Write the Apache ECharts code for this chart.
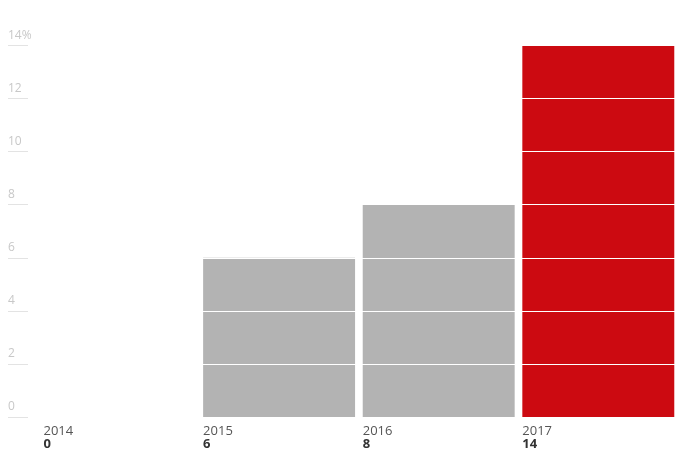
<!DOCTYPE html>
<html>
<head>
<meta charset="utf-8">
<script src="https://cdn.jsdelivr.net/npm/echarts@6/dist/echarts.min.js"></script>
<style>html,body{margin:0;padding:0;background:#fff}#c{width:689px;height:457px}</style>
</head>
<body>
<div id="c"></div>
<script>
const years = ['2014', '2015', '2016', '2017'];
const values = [0, 6, 8, 14];
const barColors = ['#b3b3b3', '#b3b3b3', '#b3b3b3', '#cc0a11'];
const yTicks = [0, 2, 4, 6, 8, 10, 12, 14];

const chart = echarts.init(document.getElementById('c'), null, {renderer: 'canvas'});
const labelCats = years.map((y, i) => y + '\n' + values[i]).concat(['']);
chart.setOption({
  animation: false,
  textStyle: {fontFamily: 'Open Sans'},
  grid: {left: 39.7, right: 10.9, top: 45.5, bottom: 40, containLabel: false},
  xAxis: [{
    type: 'category', data: years,
    axisLine: {show: false}, axisTick: {show: false}, axisLabel: {show: false}
  }, {
    type: 'category', data: labelCats, boundaryGap: false, position: 'bottom',
    axisLine: {show: false}, axisTick: {show: false},
    axisLabel: {
      interval: 0, align: 'left', margin: 8,
      formatter: function (v) {
        if (!v) return '';
        const p = v.split('\n');
        return '{y|' + p[0] + '}\n{v|' + p[1] + '}';
      },
      rich: {
        y: {fontFamily: 'Open Sans', fontSize: 13, color: '#555', lineHeight: 13, padding: [0, 0, 0, 3.8]},
        v: {fontFamily: 'Open Sans', fontSize: 13, fontWeight: 'bold', color: '#333', lineHeight: 13, padding: [0, 0, 0, 3.8]}
      }
    }
  }],
  yAxis: {
    type: 'value', min: 0, max: 14, interval: 2, offset: 31.7, z: 5,
    axisLine: {show: false},
    axisTick: {show: true, inside: true, length: 20, lineStyle: {color: '#e3e3e3', width: 1}},
    axisLabel: {
      inside: true, margin: 0, align: 'left', verticalAlign: 'bottom',
      padding: [0, 0, 4, 0],
      color: '#c8c8c8', fontSize: 12, fontFamily: 'Open Sans',
      formatter: function (v) { return v === yTicks[yTicks.length - 1] ? v + '%' : String(v); }
    },
    splitLine: {show: true, lineStyle: {color: '#ffffff', width: 1}}
  },
  series: [{
    type: 'bar', xAxisIndex: 0, barCategoryGap: '4.8%',
    data: values.map((v, i) => ({value: v, itemStyle: {color: barColors[i]}}))
  }]
});
</script>
</body>
</html>
